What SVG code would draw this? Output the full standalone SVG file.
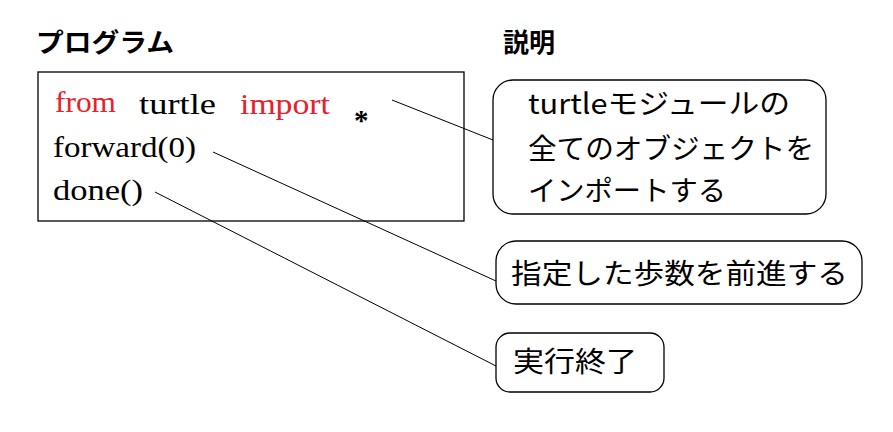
<svg xmlns="http://www.w3.org/2000/svg" width="893" height="432" viewBox="0 0 893 432">
<style>
.code{font-family:"Liberation Serif","Noto Sans CJK JP",serif;font-size:29px;fill:#000}
.red{fill:#e8202a}
.jp{font-family:"Noto Sans CJK JP",sans-serif;font-size:28px;fill:#000}
.head{font-family:"Noto Sans CJK JP",sans-serif;font-size:26px;font-weight:bold;fill:#000}
.box{fill:#fff;stroke:#000;stroke-width:1.3}
line{stroke:#000;stroke-width:1}
</style>
<rect width="893" height="432" fill="#fff"/>
<text class="head" x="36" y="52" textLength="138" lengthAdjust="spacingAndGlyphs">プログラム</text>
<text class="head" x="503" y="52">説明</text>
<g id="program">
<rect class="box" x="38" y="72" width="426" height="149"/>
<text class="code red" x="55" y="112" textLength="61" lengthAdjust="spacingAndGlyphs">from</text>
<text class="code" x="139" y="114" textLength="77" lengthAdjust="spacingAndGlyphs">turtle</text>
<text class="code red" x="240" y="114" textLength="90" lengthAdjust="spacingAndGlyphs">import</text>
<text class="code" x="354" y="130" font-size="46" font-weight="bold">*</text>
<text class="code" x="53" y="157" textLength="143" lengthAdjust="spacingAndGlyphs">forward(0)</text>
<text class="code" x="53" y="200" textLength="90" lengthAdjust="spacingAndGlyphs">done()</text>
</g>
<g id="connectors">
<line x1="392" y1="100" x2="493" y2="140"/>
<line x1="213" y1="152" x2="496" y2="281"/>
<line x1="155" y1="192" x2="496" y2="366"/>
</g>
<g id="desc1">
<rect class="box" x="493" y="80" width="333" height="134" rx="20"/>
<text class="jp" x="528" y="114" textLength="262" lengthAdjust="spacingAndGlyphs">turtleモジュールの</text>
<text class="jp" x="528" y="159" textLength="286" lengthAdjust="spacingAndGlyphs">全てのオブジェクトを</text>
<text class="jp" x="528" y="201" textLength="198" lengthAdjust="spacingAndGlyphs">インポートする</text>
</g>
<g id="desc2">
<rect class="box" x="496" y="241" width="366" height="63" rx="20"/>
<text class="jp" x="511" y="284" textLength="337" lengthAdjust="spacingAndGlyphs">指定した歩数を前進する</text>
</g>
<g id="desc3">
<rect class="box" x="496" y="333" width="168" height="59" rx="14"/>
<text class="jp" x="513" y="372" textLength="124" lengthAdjust="spacingAndGlyphs">実行終了</text>
</g>
</svg>
